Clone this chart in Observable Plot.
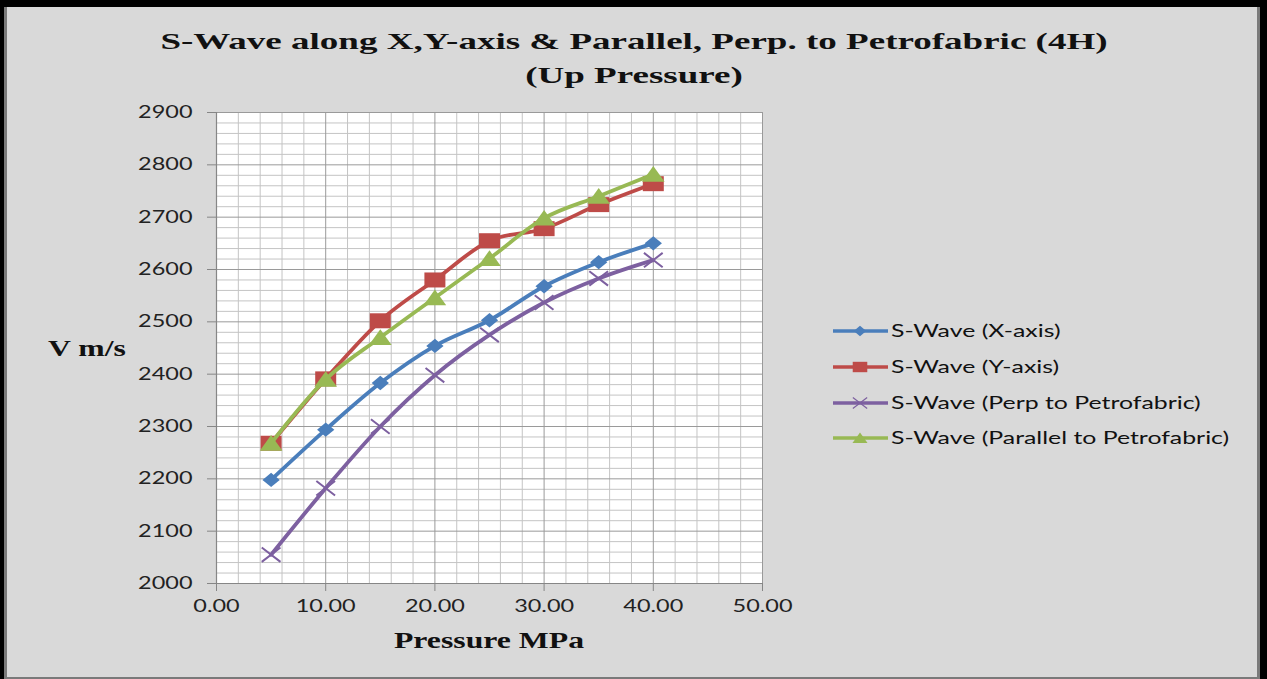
<!DOCTYPE html>
<html><head><meta charset="utf-8">
<script src="https://cdn.jsdelivr.net/npm/d3@7"></script>
<script src="https://cdn.jsdelivr.net/npm/@observablehq/plot@0.6"></script>
<style>
html,body{margin:0;padding:0;background:#000;width:1267px;height:679px;overflow:hidden}
#panel{position:absolute;left:4px;top:7px;width:1256px;height:672px;background:#d9d9d9;box-sizing:border-box;border-left:3px solid #7a7a7a;border-right:3px solid #7a7a7a;border-bottom:2px solid #7a7a7a}
#chart{position:absolute;left:0;top:0}
#overlay{position:absolute;left:0;top:0}
</style></head><body>
<div id="panel"></div>
<div id="chart"></div>
<svg id="overlay" width="1267" height="679"></svg>
<script>
// ---- data ----
const pressure = [5, 10, 15, 20, 25, 30, 35, 40];
const sWaveX = [2198, 2294, 2383, 2454, 2503, 2568, 2614, 2650];
const sWaveY = [2268, 2391, 2502, 2580, 2655, 2678, 2724, 2764];
const sWavePerp = [2055, 2182, 2300, 2398, 2475, 2537, 2583, 2618];
const sWaveParallel = [2268, 2390, 2470, 2546, 2621, 2698, 2740, 2782];
const seriesNames = ["S-Wave (X-axis)", "S-Wave (Y-axis)", "S-Wave (Perp to Petrofabric)", "S-Wave (Parallel to Petrofabric)"];
const seriesColors = ["#4a7ebb", "#be4b48", "#7d60a0", "#98b954"];
const xTicks = [0, 10, 20, 30, 40, 50];
const yTicks = [2000, 2100, 2200, 2300, 2400, 2500, 2600, 2700, 2800, 2900];
const xMinor = [2,4,6,8,12,14,16,18,22,24,26,28,32,34,36,38,42,44,46,48];
const yMinor = yTicks.slice(0, -1).flatMap(v => [v + 20, v + 40, v + 60, v + 80]);
const titleLines = ["S-Wave along X,Y-axis & Parallel, Perp. to Petrofabric (4H)", "(Up Pressure)"];
const xLabel = "Pressure MPa";
const yLabel = "V m/s";

const STRETCH = 1.38;
const TITLE_STRETCH = 1.61;

// stretched marker symbols (image is horizontally stretched)
const rOf = size => Math.sqrt(size / Math.PI);
const symDiamond = {draw(c, s){ const r = rOf(s); const h = r, w = r * 1.2; c.moveTo(0,-h); c.lineTo(w,0); c.lineTo(0,h); c.lineTo(-w,0); c.closePath(); }};
const symSquare = {draw(c, s){ const r = rOf(s); c.rect(-r*1.4, -r, r*2.8, r*2); }};
const symTriangle = {draw(c, s){ const r = rOf(s); c.moveTo(0,-r*1.05); c.lineTo(r*1.45, r*0.95); c.lineTo(-r*1.45, r*0.95); c.closePath(); }};
const symX = {draw(c, s){ const r = rOf(s); c.moveTo(-r*1.3,-r); c.lineTo(r*1.3,r); c.moveTo(r*1.3,-r); c.lineTo(-r*1.3,r); }};
const symbols = [symDiamond, symSquare, symX, symTriangle];
const symR = [7.2, 7.5, 7.2, 7.8];

const seriesValues = [sWaveX, sWaveY, sWavePerp, sWaveParallel];
const tables = seriesValues.map((vals, i) => pressure.map((p, j) => ({p, v: vals[j], s: seriesNames[i]})));

const W = 1267, H = 679;
const marks = [
  Plot.frame({fill: "white", stroke: "none"}),
  Plot.ruleX(xMinor, {stroke: "#c4c4c4", strokeWidth: 1}),
  Plot.ruleY(yMinor, {stroke: "#c4c4c4", strokeWidth: 1}),
  Plot.ruleX(xTicks.slice(1), {stroke: "#9a9a9a", strokeWidth: 1}),
  Plot.ruleY(yTicks.slice(1), {stroke: "#9a9a9a", strokeWidth: 1}),
  Plot.ruleX([0], {stroke: "#868686", strokeWidth: 1.2}),
  Plot.ruleY([2000], {stroke: "#868686", strokeWidth: 1.2}),
  Plot.axisY(yTicks, {tickSize: 9, tickPadding: 15, stroke: "#868686", label: null, tickFormat: d3.format("d")}),
  Plot.axisX(xTicks, {tickSize: 8, tickPadding: 8, stroke: "#868686", label: null, tickFormat: d3.format(".2f")})
];
tables.forEach((t, i) => {
  marks.push(Plot.line(t, {x: "p", y: "v", stroke: seriesColors[i], strokeWidth: 3.8, curve: "cardinal", tension: 0}));
  if (i === 2) {
    marks.push(Plot.dot(t, {x: "p", y: "v", symbol: symbols[i], r: symR[i], stroke: seriesColors[i], fill: "none", strokeWidth: 2}));
  } else {
    marks.push(Plot.dot(t, {x: "p", y: "v", symbol: symbols[i], r: symR[i], fill: seriesColors[i], stroke: "none"}));
  }
});

const chart = Plot.plot({
  width: W, height: H,
  marginLeft: 216, marginRight: W - 762, marginTop: 112, marginBottom: H - 583,
  x: {domain: [0, 50]},
  y: {domain: [2000, 2900]},
  style: {background: "transparent", fontFamily: "Lato", fontSize: "17px", color: "#222"},
  marks
});
document.getElementById("chart").appendChild(chart);

function stretch(el, f) {
  const len = el.getComputedTextLength();
  if (len > 0) { el.setAttribute("textLength", len * f); el.setAttribute("lengthAdjust", "spacingAndGlyphs"); }
}
d3.select(chart).selectAll("text").each(function(){ stretch(this, STRETCH); });

// overlay: titles, axis titles, legend
const ov = d3.select("#overlay");
const serif = "'Liberation Serif', 'Times New Roman', serif";
function addText(txt, x, y, anchor, font, size, weight, f) {
  const t = ov.append("text").attr("x", x).attr("y", y).attr("text-anchor", anchor)
    .attr("font-family", font).attr("font-size", size).attr("font-weight", weight).attr("fill", "#111").text(txt);
  stretch(t.node(), f);
  return t;
}
addText(titleLines[0], 634, 49, "middle", serif, 23, "bold", TITLE_STRETCH);
addText(titleLines[1], 634, 83, "middle", serif, 23, "bold", TITLE_STRETCH);
addText(yLabel, 48, 356, "start", serif, 23, "bold", STRETCH);
addText(xLabel, 489, 648, "middle", serif, 23, "bold", STRETCH);

const legY = [331, 367, 403, 438];
seriesNames.forEach((name, i) => {
  const y = legY[i];
  ov.append("line").attr("x1", 833).attr("x2", 888).attr("y1", y).attr("y2", y)
    .attr("stroke", seriesColors[i]).attr("stroke-width", 3.6);
  const path = d3.symbol(symbols[i], Math.PI * (i === 2 ? 5.5 : 5.2) ** 2)();
  const p = ov.append("path").attr("d", path).attr("transform", `translate(860,${y})`);
  if (i === 2) p.attr("fill", "none").attr("stroke", seriesColors[i]).attr("stroke-width", 1.2);
  else p.attr("fill", seriesColors[i]);
  addText(name, 891, y + 6, "start", "Lato", 18, "normal", STRETCH);
});
</script>
</body></html>
